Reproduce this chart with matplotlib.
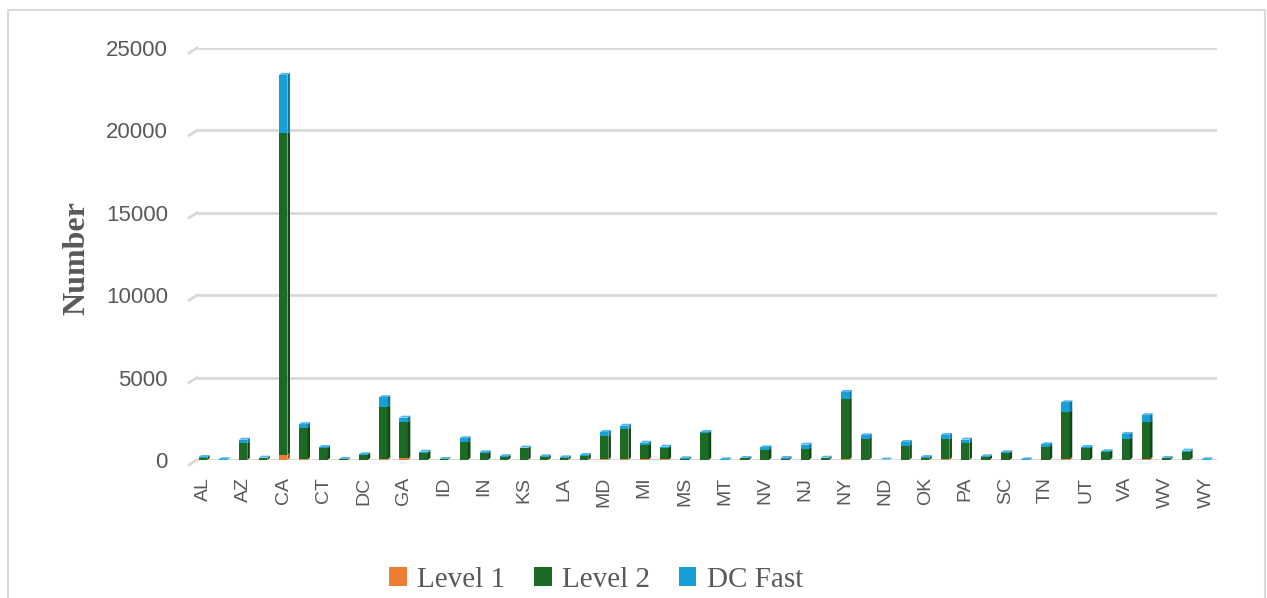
import matplotlib
matplotlib.use("Agg")
import matplotlib.pyplot as plt
from matplotlib.patches import Patch, Polygon, Rectangle
from matplotlib.lines import Line2D
import numpy as np

# Charging outlets by state
states = ["AL", "AK", "AZ", "AR", "CA", "CO", "CT", "DE", "DC", "FL",
          "GA", "HI", "ID", "IL", "IN", "IA", "KS", "KY", "LA", "ME",
          "MD", "MA", "MI", "MN", "MS", "MO", "MT", "NE", "NV", "NH",
          "NJ", "NM", "NY", "NC", "ND", "OH", "OK", "OR", "PA", "RI",
          "SC", "SD", "TN", "TX", "UT", "VT", "VA", "WA", "WV", "WI", "WY"]

level1 = [5, 2, 15, 3, 300, 50, 15, 2, 5, 60,
          100, 10, 2, 20, 10, 5, 10, 5, 5, 5,
          40, 40, 50, 40, 3, 20, 2, 3, 10, 3,
          15, 3, 40, 30, 1, 20, 3, 60, 30, 5,
          10, 1, 20, 80, 20, 20, 30, 80, 3, 20, 1]

level2 = [140, 20, 1005, 110, 19530, 1910, 695, 40, 320, 3160,
          2210, 440, 35, 1055, 390, 185, 700, 175, 120, 250,
          1400, 1820, 840, 690, 70, 1620, 15, 90, 600, 85,
          675, 100, 3640, 1260, 10, 850, 120, 1195, 1020, 180,
          415, 20, 790, 2850, 690, 470, 1245, 2210, 90, 470, 15]

dc_fast = [35, 25, 210, 30, 3540, 210, 80, 20, 25, 590,
           260, 55, 25, 245, 70, 40, 40, 45, 40, 50,
           260, 220, 160, 80, 32, 60, 25, 32, 160, 37,
           240, 37, 450, 210, 15, 225, 57, 265, 185, 40,
           45, 19, 145, 570, 80, 40, 305, 425, 32, 80, 24]

series_names = ["Level 1", "Level 2", "DC Fast"]
face_colors = ["#ED7D31", "#1B6B24", "#179FD8"]
side_colors = ["#B85A1E", "#0F4716", "#0E75A3"]
top_colors = ["#F4A06A", "#2E8A38", "#4DB8E6"]
y_ticks = [0, 5000, 10000, 15000, 20000, 25000]

W, H = 1267, 598
fig = plt.figure(figsize=(W / 100, H / 100), dpi=100)
fig.patch.set_facecolor("white")

# outer chart frame
fig.patches.append(Rectangle((8 / W, -0.05), (1265 - 8) / W, 1 - 10 / H + 0.05,
                             transform=fig.transFigure, fill=False,
                             edgecolor="#D9D9D9", lw=1.5))

ax = fig.add_axes([197 / W, 138 / H, (1217 - 197) / W, (460 - 48) / H])
ax.set_xlim(-0.3, 50.55)
ax.set_ylim(0, 25000)
for s in ax.spines.values():
    s.set_visible(False)
ax.set_yticks(y_ticks)
ax.yaxis.grid(True, color="#D9D9D9", lw=2)
ax.set_axisbelow(True)
ax.tick_params(axis="y", length=0, pad=21, labelsize=16, labelcolor="#595959")
ax.set_yticklabels([str(t) for t in y_ticks], fontfamily="Liberation Sans")

x = np.arange(len(states))
ax.set_xticks(x[::2])
ax.set_xticklabels(states[::2], rotation=90, fontfamily="Liberation Sans",
                   fontsize=14, color="#595959")
ax.tick_params(axis="x", length=0, pad=12)

# small perspective stubs at the left end of each gridline
ytrans = ax.get_yaxis_transform()
for t in y_ticks:
    px, py = ytrans.transform((0, t))
    p0 = fig.transFigure.inverted().transform((px - 8, py - 5))
    p1 = fig.transFigure.inverted().transform((px, py))
    fig.lines.append(Line2D([p0[0], p1[0]], [p0[1], p1[1]],
                            transform=fig.transFigure, color="#D9D9D9", lw=2))

# stacked bars with a shallow 3-D look
bw = 0.42
dx = 0.125          # depth offset in x (data units)
dy = 120            # depth offset in y (data units)
series = [level1, level2, dc_fast]
bottom = np.zeros(len(states))
for k, vals in enumerate(series):
    vals = np.asarray(vals, dtype=float)
    ax.bar(x, vals, width=bw, bottom=bottom, color=face_colors[k],
           linewidth=0, zorder=3)
    for i in range(len(states)):
        y0, y1 = bottom[i], bottom[i] + vals[i]
        xr = x[i] + bw / 2
        ax.add_patch(Polygon([(xr, y0), (xr + dx, y0 + dy), (xr + dx, y1 + dy), (xr, y1)],
                             closed=True, facecolor=side_colors[k], lw=0, zorder=3))
    bottom = bottom + vals

# top caps in the colour of the top series
for i in range(len(states)):
    yt = bottom[i]
    xl, xr = x[i] - bw / 2, x[i] + bw / 2
    ax.add_patch(Polygon([(xl, yt), (xr, yt), (xr + dx, yt + dy), (xl + dx, yt + dy)],
                         closed=True, facecolor=top_colors[2], lw=0, zorder=4))

fig.text(77 / W, 1 - 258 / H, "Number", rotation=90, ha="center", va="center",
         fontfamily="Liberation Serif", fontweight="bold", fontsize=23,
         color="#595959")

handles = [Patch(facecolor=c, edgecolor="none") for c in face_colors]
leg = fig.legend(handles, series_names, loc="center", ncol=3,
                 bbox_to_anchor=(596 / W, 1 - 580 / H), frameon=False,
                 prop={"family": "Liberation Serif", "size": 21},
                 handlelength=0.6, handleheight=0.6, handletextpad=0.35,
                 columnspacing=1.0, borderaxespad=0)
for t in leg.get_texts():
    t.set_color("#595959")

fig.savefig("out.png", dpi=100)
